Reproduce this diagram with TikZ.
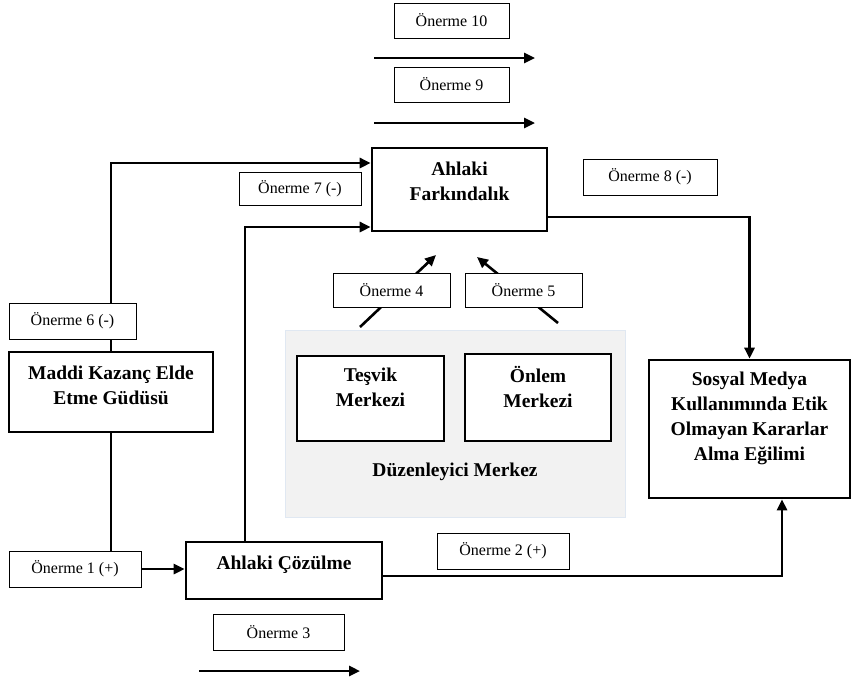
\documentclass[tikz,border=0pt]{standalone}
\usepackage{fontspec}
\setmainfont{Liberation Serif}
\usetikzlibrary{arrows.meta}
\definecolor{merkezgri}{RGB}{242,242,242}
\definecolor{merkezcizgi}{RGB}{224,232,242}
\newcommand{\altbosluk}[1]{\rule[-#1]{0pt}{#1}}

\begin{document}
\begin{tikzpicture}[x=1pt, y=-1pt,
  every node/.style = {shape=rectangle, align=center, inner sep=0pt},
  onerme/.style = {draw, line width=0.9pt, fill=white,
    font=\fontsize{16}{19}\selectfont},
  kavram/.style = {draw, line width=2.6pt, fill=white,
    font=\fontsize{19.5}{25}\selectfont\bfseries},
  merkezkutu/.style = {draw, line width=1.2pt, fill=white,
    font=\fontsize{19.5}{25}\selectfont\bfseries},
  cizgi/.style = {line width=2.6pt},
  ok/.style = {cizgi, -{Triangle[length=11pt,width=10pt]}}]
  \useasboundingbox (0,0) rectangle (853,681);

  \node[draw=merkezcizgi, fill=merkezgri, line width=1pt,
    minimum width=340pt, minimum height=187pt] (merkez) at (455,423.5) {};
  \node[merkezkutu, minimum width=147pt, minimum height=85pt] (tesvik)
    at (370.5,398.5) {Teşvik\\Merkezi\altbosluk{22pt}};
  \node[merkezkutu, minimum width=146pt, minimum height=87pt] (onlem)
    at (538,397.5) {Önlem\\Merkezi\altbosluk{22pt}};
  \node[font=\fontsize{19.5}{25}\selectfont\bfseries] (merkezad)
    at (455,472) {Düzenleyici Merkez};

  \node[kavram, minimum width=175pt, minimum height=83pt] (fark)
    at (459.5,189.5) {Ahlaki\\Farkındalık\altbosluk{16pt}};
  \node[kavram, minimum width=204pt, minimum height=80pt] (maddi)
    at (111,392) {Maddi Kazanç Elde\\Etme Güdüsü\altbosluk{13pt}};
  \node[kavram, minimum width=201pt, minimum height=138pt] (sosyal)
    at (749.5,429) {Sosyal Medya\\Kullanımında Etik\\Olmayan Kararlar\\Alma Eğilimi\altbosluk{25pt}};
  \node[kavram, minimum width=196pt, minimum height=57pt] (cozulme)
    at (284,570.5) {Ahlaki Çözülme\altbosluk{15pt}};
  \node[onerme, minimum width=132pt, minimum height=36pt] (o1)
    at (75,569) {Önerme 1 (+)};

  \coordinate (o10s) at (374,58);
  \coordinate (o10e) at (535,58);
  \coordinate (o9s) at (374,123);
  \coordinate (o9e) at (535,123);
  \coordinate (o3s) at (199,671);
  \coordinate (o3e) at (360,671);
  \coordinate (o4s) at (360,327);
  \coordinate (o4e) at (436,255);
  \coordinate (o5s) at (558,323);
  \coordinate (o5e) at (477,257);

  \draw[ok] (o10s) -- (o10e);
  \draw[ok] (o9s) -- (o9e);
  \draw[ok] (o3s) -- (o3e);
  \draw[ok] (o4s) -- (o4e);
  \draw[ok] (o5s) -- (o5e);
  \draw[ok] (maddi.north) |- ([yshift=26.5pt]fark.west);
  \draw[ok] ([xshift=-39pt]cozulme.north) |- ([yshift=-37.5pt]fark.west);
  \draw[ok] ([yshift=-27.5pt]fark.east) -| (sosyal.north);
  \draw[ok] ([yshift=-5.5pt]cozulme.east) -| ([xshift=32.5pt]sosyal.south);
  \draw[cizgi] (maddi.south) -- (maddi.south |- o1.north);
  \draw[ok] (o1.east) -- (o1.east -| cozulme.west);

  \node[onerme, minimum width=115pt, minimum height=35pt] (o10)
    at (451.5,20.5) {Önerme 10};
  \node[onerme, minimum width=115pt, minimum height=35pt] (o9)
    at (451.5,84.5) {Önerme 9};
  \node[onerme, minimum width=122pt, minimum height=33pt] (o7)
    at (300,188.5) {Önerme 7 (-)};
  \node[onerme, minimum width=134pt, minimum height=36pt] (o8)
    at (650,177) {Önerme 8 (-)};
  \node[onerme, minimum width=127pt, minimum height=36pt] (o6)
    at (72.5,321) {Önerme 6 (-)};
  \node[onerme, minimum width=117pt, minimum height=34pt] (o4)
    at (391.5,290) {Önerme 4};
  \node[onerme, minimum width=117pt, minimum height=34pt] (o5)
    at (523.5,290) {Önerme 5};
  \node[onerme, minimum width=132pt, minimum height=36pt] (o2)
    at (503,551) {Önerme 2 (+)};
  \node[onerme, minimum width=131pt, minimum height=36pt] (o3)
    at (278.5,632) {Önerme 3};
\end{tikzpicture}
\end{document}
